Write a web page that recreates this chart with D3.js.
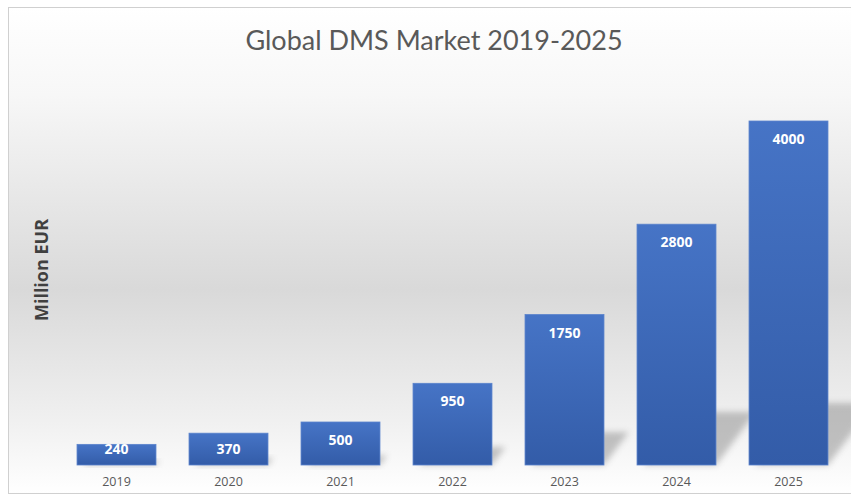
<!DOCTYPE html>
<html>
<head>
<meta charset="utf-8">
<script src="https://cdn.jsdelivr.net/npm/d3@7"></script>
<style>
  body { margin: 0; background: #fff; }
  svg { display: block; }
</style>
</head>
<body>
<div id="chart"></div>
<script>
// data
let years = ['2019', '2020', '2021', '2022', '2023', '2024', '2025'];
let values = [240, 370, 500, 950, 1750, 2800, 4000];
let title = 'Global DMS Market 2019-2025';
let yLabel = 'Million EUR';

let width = 851;
let height = 500;
let baseline = 465;

let svg = d3.select('#chart').append('svg')
  .attr('width', width)
  .attr('height', height);

let defs = svg.append('defs');

// background gradient (white - gray - white)
let bg = defs.append('linearGradient')
  .attr('id', 'bg')
  .attr('x1', 0).attr('y1', 0).attr('x2', 0).attr('y2', 1);
bg.append('stop').attr('offset', '0%').attr('stop-color', '#ffffff');
bg.append('stop').attr('offset', '18%').attr('stop-color', '#f7f7f7');
bg.append('stop').attr('offset', '58%').attr('stop-color', '#d9d9d9');
bg.append('stop').attr('offset', '85%').attr('stop-color', '#f0f0f0');
bg.append('stop').attr('offset', '100%').attr('stop-color', '#ffffff');

let barGrad = defs.append('linearGradient')
  .attr('id', 'barGrad')
  .attr('x1', 0).attr('y1', 0).attr('x2', 0).attr('y2', 1);
barGrad.append('stop').attr('offset', '0%').attr('stop-color', '#4674c6');
barGrad.append('stop').attr('offset', '100%').attr('stop-color', '#335ca8');

defs.append('filter')
  .attr('id', 'blur')
  .attr('x', '-50%').attr('y', '-50%').attr('width', '200%').attr('height', '200%')
  .append('feGaussianBlur')
  .attr('stdDeviation', 3);

svg.append('rect')
  .attr('x', 8.5)
  .attr('y', 7.5)
  .attr('width', width)
  .attr('height', 486)
  .attr('fill', 'url(#bg)')
  .attr('stroke', '#d0d0d0');

let x = d3.scaleBand()
  .domain(years)
  .range([60.5, 844.5])
  .paddingInner(0.295)
  .paddingOuter(0.1475);

let y = d3.scaleLinear()
  .domain([0, 4000])
  .range([baseline, 121]);

// shadows
svg.append('g').attr('class', 'shadows')
  .selectAll('polygon')
  .data(years)
  .enter().append('polygon')
    .attr('points', (d, i) => {
      let x0 = x(d);
      let x1 = x0 + x.bandwidth();
      let rise = Math.min((baseline - y(values[i])) * 0.22, 62);
      let dx = rise * 0.75;
      return [[x0 + 6, baseline], [x1, baseline], [x1 + dx, baseline - rise], [x0 + dx + 6, baseline - rise]]
        .map(p => p.join(',')).join(' ');
    })
    .attr('fill', '#7f7f7f')
    .attr('opacity', 0.45)
    .attr('filter', 'url(#blur)');

// bars
svg.append('g').attr('class', 'bars')
  .selectAll('rect')
  .data(years)
  .enter().append('rect')
    .attr('x', d => x(d))
    .attr('y', (d, i) => y(values[i]))
    .attr('width', x.bandwidth())
    .attr('height', (d, i) => baseline - y(values[i]))
    .attr('fill', 'url(#barGrad)')
    .attr('stroke', '#5b83cc')
    .attr('stroke-width', 0.8);

// value labels
svg.append('g').attr('class', 'values')
  .selectAll('text')
  .data(years)
  .enter().append('text')
    .attr('x', d => x(d) + x.bandwidth() / 2)
    .attr('y', (d, i) => Math.min(y(values[i]) + 23, baseline - 11))
    .attr('text-anchor', 'middle')
    .attr('font-family', 'Open Sans, sans-serif')
    .attr('font-weight', 'bold')
    .attr('font-size', '14px')
    .attr('fill', '#ffffff')
    .text((d, i) => values[i]);

// x axis labels
let xAxis = svg.append('g')
  .attr('transform', 'translate(0,' + baseline + ')')
  .call(d3.axisBottom(x).tickSize(0).tickPadding(12));
xAxis.select('.domain').remove();
xAxis.selectAll('text')
  .attr('font-family', 'Open Sans, sans-serif')
  .attr('font-size', '12.5px')
  .attr('fill', '#595959');

// title
svg.append('text')
  .attr('x', 434)
  .attr('y', 50)
  .attr('text-anchor', 'middle')
  .attr('font-family', 'Lato, sans-serif')
  .attr('font-size', '27px')
  .attr('fill', '#595959')
  .text(title);

// y label
svg.append('text')
  .attr('transform', 'translate(48,270) rotate(-90)')
  .attr('text-anchor', 'middle')
  .attr('font-family', 'Open Sans, sans-serif')
  .attr('font-weight', 'bold')
  .attr('font-size', '18px')
  .attr('fill', '#404040')
  .text(yLabel);
</script>
</body>
</html>
